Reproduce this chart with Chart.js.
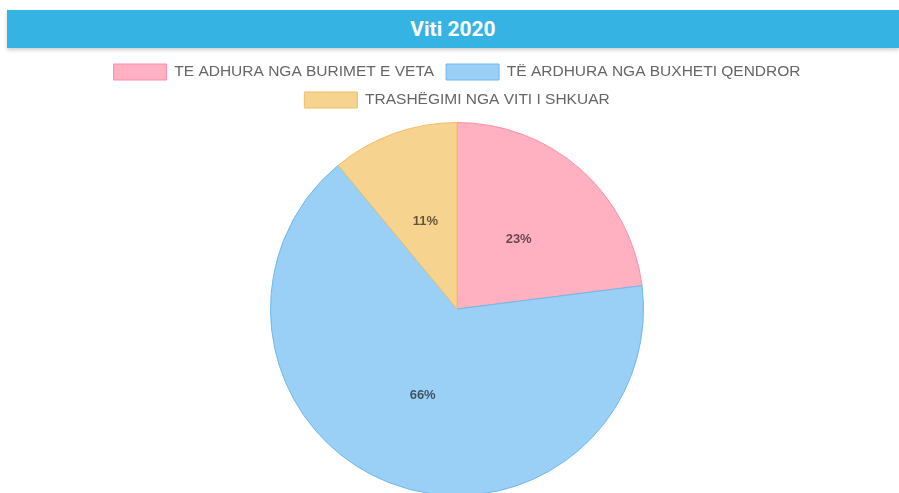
<!DOCTYPE html>
<html>
<head>
<meta charset="utf-8">
<script src="https://cdn.jsdelivr.net/npm/chart.js@4"></script>
<style>
  html, body { margin: 0; padding: 0; background: #fff; overflow: hidden; }
  .header {
    position: absolute; left: 7px; top: 10px; width: 892px; height: 38px;
    background: #35b4e4; box-shadow: 0 2px 4px rgba(0,0,0,0.2);
    color: #fff; font-family: Roboto, sans-serif; font-weight: 700; font-size: 21px;
    line-height: 38px; text-align: center;
  }
  .chart-wrap { position: absolute; left: 15px; top: 52px; width: 884px; height: 444px; }
</style>
</head>
<body>
<div class="header">Viti 2020</div>
<div class="chart-wrap"><canvas id="pieChart"></canvas></div>
<script>
// data
const labels = ['TE ADHURA NGA BURIMET E VETA', 'TË ARDHURA NGA BUXHETI QENDROR', 'TRASHËGIMI NGA VITI I SHKUAR'];
const values = [23, 66, 11];
const bgColors = ['#ffb1c1', '#9ad0f5', '#f6d38f'];
const borderColors = ['#ff8fa8', '#6db9ee', '#efbf6a'];

// a bit more room under the legend
const legendMargin = {
  id: 'legendMargin',
  beforeInit(chart) {
    const fit = chart.legend.fit;
    chart.legend.fit = function () {
      fit.bind(chart.legend)();
      this.height += 4;
    };
  },
};

// percent labels in the middle of each slice
const pctLabels = {
  id: 'pctLabels',
  afterDatasetsDraw(chart) {
    const ctx = chart.ctx;
    const meta = chart.getDatasetMeta(0);
    const total = values.reduce((a, b) => a + b, 0);
    ctx.save();
    ctx.font = 'bold 13px "Liberation Sans", Arial, sans-serif';
    ctx.fillStyle = 'rgba(0,0,0,0.6)';
    ctx.textAlign = 'center';
    ctx.textBaseline = 'middle';
    meta.data.forEach((arc, i) => {
      const p = arc.getCenterPoint();
      ctx.fillText(Math.round(values[i] / total * 100) + '%', p.x, p.y);
    });
    ctx.restore();
  },
};

new Chart(document.getElementById('pieChart'), {
  type: 'pie',
  data: {
    labels,
    datasets: [{
      data: values,
      backgroundColor: bgColors,
      borderColor: borderColors,
      borderWidth: 1,
    }],
  },
  options: {
    responsive: true,
    maintainAspectRatio: false,
    animation: false,
    layout: { padding: 0 },
    plugins: {
      tooltip: { enabled: false },
      legend: {
        position: 'top',
        labels: {
          boxWidth: 53,
          boxHeight: 16,
          padding: 12,
          color: '#666',
          font: { size: 15.5, family: '"Liberation Sans", Arial, sans-serif' },
        },
      },
    },
  },
  plugins: [legendMargin, pctLabels],
});
</script>
</body>
</html>
